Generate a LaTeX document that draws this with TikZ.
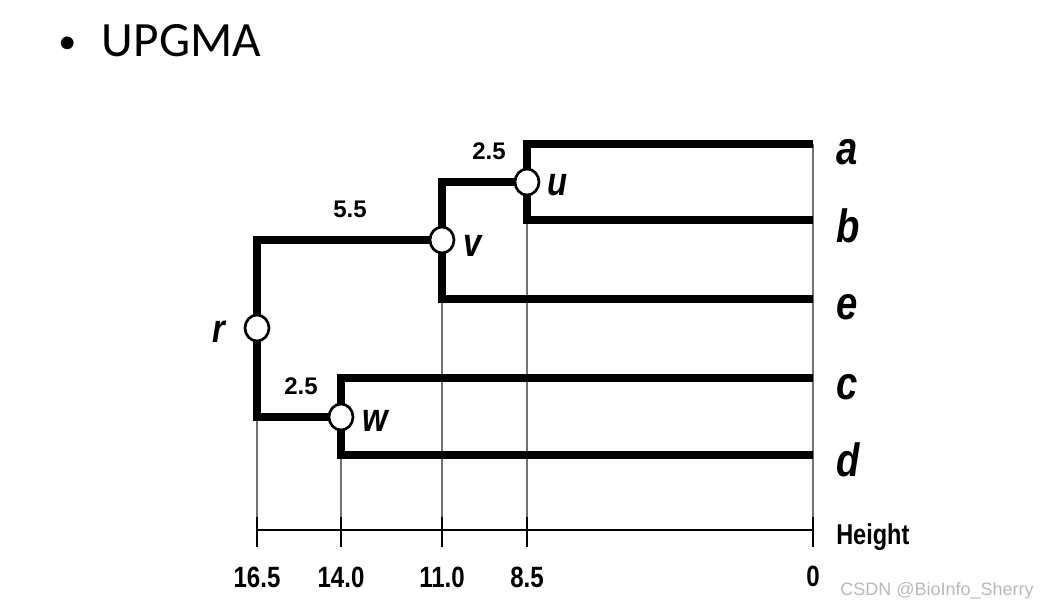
\documentclass[tikz,border=0pt]{standalone}
\usepackage{fontspec}
\setmainfont{Liberation Sans}
\newfontfamily\titlefont{Carlito}
\newfontfamily\hvc[FakeStretch=0.82]{Liberation Sans}
\newfontfamily\hvn{Liberation Sans}
\usetikzlibrary{backgrounds,shapes.geometric}
\definecolor{wm}{RGB}{185,185,185}
\tikzset{
  branch/.style={line width=6pt, line join=miter, line cap=butt},
  guide/.style={line width=0.9pt, black!55},
  axisline/.style={line width=2.2pt},
  tick/.style={line width=2pt},
  inner/.style={ellipse, draw, fill=white, line width=2pt, minimum width=18pt, minimum height=19.5pt, inner sep=0pt},
  leaf/.style={anchor=base west, inner sep=0pt, font=\hvc\bfseries\itshape\fontsize{35}{35}\selectfont},
  nlab/.style={anchor=base west, inner sep=0pt, font=\hvc\bfseries\itshape\fontsize{30}{30}\selectfont},
  blab/.style={anchor=base, inner sep=0pt, font=\hvn\bfseries\fontsize{18}{18}\selectfont},
  tlab/.style={anchor=base, inner sep=0pt, font=\hvc\bfseries\fontsize{22}{22}\selectfont},
}
\begin{document}
\begin{tikzpicture}[x=0.75pt,y=-0.75pt]
\useasboundingbox (0,0) rectangle (1040,609);
% title
\node[anchor=base west, inner sep=0pt, font=\titlefont\fontsize{37}{37}\selectfont] (title) at (58,57) {\raisebox{2.5pt}{\fontsize{27}{27}\selectfont\textbullet}\hspace{0.52em}UPGMA};
% inner nodes
\node[inner] (u) at (527,182) {};
\node[inner] (v) at (442,240) {};
\node[inner] (r) at (257,328) {};
\node[inner] (w) at (341,417) {};
% leaf ends
\coordinate (a0) at (813,144);
\coordinate (b0) at (813,220);
\coordinate (e0) at (813,299);
\coordinate (c0) at (813,378);
\coordinate (d0) at (813,455);
% axis ticks
\coordinate (t165) at (257,530);
\coordinate (t140) at (341,530);
\coordinate (t110) at (442,530);
\coordinate (t85) at (527,530);
\coordinate (t0) at (813,530);
\begin{scope}[on background layer]
  % guides
  \draw[guide] (r.center |- w.center) -- (t165);
  \draw[guide] (w.center |- d0) -- (t140);
  \draw[guide] (v.center |- e0) -- (t110);
  \draw[guide] (u.center |- b0) -- (t85);
  \draw[guide] (a0) -- (t0 |- 0,547);
  % tree
  \draw[branch] (a0) -| (u.center) |- (b0);
  \draw[branch] (u.center) -| (v.center) |- (e0);
  \draw[branch] (v.center) -| (r.center) |- (w.center);
  \draw[branch] (c0) -| (w.center) |- (d0);
\end{scope}
% axis
\draw[axisline] (t165) -- (t0);
\foreach \t in {t165,t140,t110,t85,t0}{
  \draw[tick] ([yshift=9.75pt]\t) -- ([yshift=-12.75pt]\t);
}
% leaf labels
\node[leaf] (la) at (836,165) {a};
\node[leaf] (lb) at (836,243) {b};
\node[leaf] (le) at (836,320) {e};
\node[leaf] (lc) at (836,400) {c};
\node[leaf] (ld) at (836,477) {d};
% inner labels
\node[nlab] (lu) at (547,196) {u};
\node[nlab] (lv) at (463,257) {v};
\node[nlab] (lr) at (212,343) {r};
\node[nlab] (lw) at (362,432) {w};
% branch lengths
\node[blab] (b1) at (489,160) {2.5};
\node[blab] (b2) at (350,218) {5.5};
\node[blab] (b3) at (301,395) {2.5};
% tick labels
\node[tlab] (n165) at (257,588) {16.5};
\node[tlab] (n140) at (341,588) {14.0};
\node[tlab] (n110) at (442,588) {11.0};
\node[tlab] (n85) at (527,588) {8.5};
\node[tlab] (n0) at (813,587) {0};
\node[anchor=base west, inner sep=0pt, font=\hvc\bfseries\fontsize{21.5}{21.5}\selectfont] (height) at (836,545) {Height};
% watermark
\node[anchor=base west, inner sep=0pt, text=wm, font=\hvn\fontsize{13.5}{13.5}\selectfont] (wmk) at (840,596) {CSDN @BioInfo\_Sherry};
\end{tikzpicture}
\end{document}
